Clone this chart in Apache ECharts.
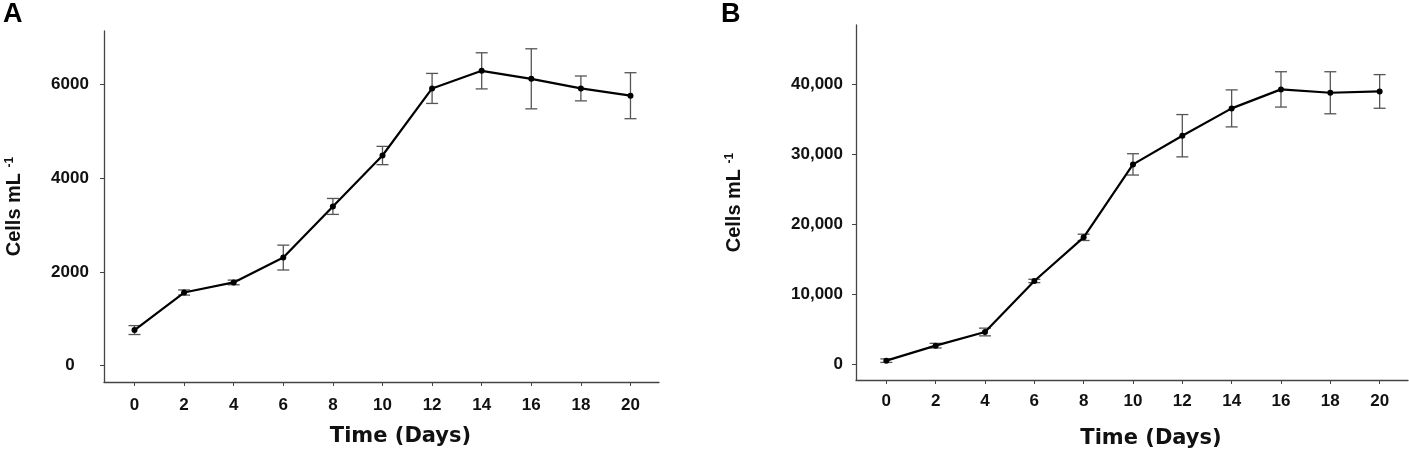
<!DOCTYPE html>
<html>
<head>
<meta charset="utf-8">
<script src="https://cdn.jsdelivr.net/npm/echarts@6/dist/echarts.min.js"></script>
<style>
  html, body { margin: 0; padding: 0; background: #fff; }
  #chart { width: 1409px; height: 456px; }
</style>
</head>
<body>
<div id="chart"></div>
<script>
// sampling days (x)
var days = [0, 2, 4, 6, 8, 10, 12, 14, 16, 18, 20];

// panel A: mean cells per mL and error (+/-)
var cellsA = [760, 1560, 1775, 2305, 3395, 4480, 5910, 6285, 6115, 5910, 5755];
var errA = [95, 55, 50, 265, 170, 195, 320, 385, 640, 265, 490];

// panel B
var cellsB = [520, 2660, 4610, 11890, 18120, 28530, 32620, 36520, 39230, 38750, 38940];
var errB = [250, 330, 550, 240, 450, 1520, 3020, 2640, 2520, 3000, 2400];

// tick labels
var yTicksA = [0, 2000, 4000, 6000];
var yTicksB = [0, 10000, 20000, 30000, 40000];

var tickFont = '"Liberation Sans", Arial, sans-serif';
var axisGrey = '#444';

function pairs(xs, ys) {
    return xs.map(function (x, i) { return [x, ys[i]]; });
}
function errRows(xs, ys, es) {
    return xs.map(function (x, i) { return [x, ys[i] - es[i], ys[i] + es[i]]; });
}

function renderErr(params, api) {
    var lo = api.coord([api.value(0), api.value(1)]);
    var hi = api.coord([api.value(0), api.value(2)]);
    var w = 6;
    var st = { stroke: '#555', lineWidth: 1.3 };
    return {
        type: 'group',
        children: [
            { type: 'line', shape: { x1: lo[0], y1: lo[1], x2: hi[0], y2: hi[1] }, style: st },
            { type: 'line', shape: { x1: lo[0] - w, y1: lo[1], x2: lo[0] + w, y2: lo[1] }, style: st },
            { type: 'line', shape: { x1: hi[0] - w, y1: hi[1], x2: hi[0] + w, y2: hi[1] }, style: st }
        ]
    };
}

function xAxisOf(idx, gap, nameGap) {
    return {
        type: 'value', gridIndex: idx, min: -1.23, max: 21.15,
        name: 'Time (Days)', nameLocation: 'middle', nameGap: nameGap,
        nameTextStyle: { fontFamily: 'DejaVu Sans', fontWeight: 'bold', fontSize: 21, color: '#111', padding: [0, 0, 0, 38] },
        axisLine: { onZero: false, lineStyle: { color: axisGrey, width: 1.3 } },
        axisTick: { customValues: days, length: 4, lineStyle: { color: axisGrey } },
        axisLabel: { customValues: days, margin: gap, fontFamily: tickFont, fontWeight: 'bold', fontSize: 17, color: '#111' },
        splitLine: { show: false }
    };
}

function yAxisOf(idx, min, max, ticks, lab, nameGap) {
    return {
        type: 'value', gridIndex: idx, min: min, max: max,
        name: '{m|Cells mL }{s|-1}', nameLocation: 'middle', nameRotate: 90, nameGap: nameGap,
        nameTextStyle: {
            rich: {
                m: { fontFamily: tickFont, fontWeight: 'bold', fontSize: 20, color: '#111', verticalAlign: 'bottom' },
                s: { fontFamily: tickFont, fontWeight: 'bold', fontSize: 12, color: '#111', verticalAlign: 'top' }
            }
        },
        axisLine: { onZero: false, lineStyle: { color: axisGrey, width: 1.3 } },
        axisTick: { customValues: ticks, length: 4, lineStyle: { color: axisGrey } },
        axisLabel: Object.assign({ customValues: ticks, fontFamily: tickFont, fontWeight: 'bold', fontSize: 17, color: '#111' }, lab),
        splitLine: { show: false }
    };
}

var chart = echarts.init(document.getElementById('chart'), null, { renderer: 'canvas' });

var option = {
    animation: false,
    backgroundColor: '#fff',
    graphic: [
        { type: 'text', left: 3, top: 1, style: { text: 'A', font: 'bold 27px "Liberation Sans"', fill: '#000' } },
        { type: 'text', left: 721, top: 1, style: { text: 'B', font: 'bold 27px "Liberation Sans"', fill: '#000' } }
    ],
    grid: [
        { left: 104, top: 31, width: 555, height: 351 },
        { left: 856, top: 25, width: 552, height: 355 }
    ],
    xAxis: [xAxisOf(0, 15, 44), xAxisOf(1, 13, 48)],
    yAxis: [
        yAxisOf(0, -347, 7134, yTicksA, {
            margin: 34, align: 'center',
            formatter: function (v) { return String(v); }
        }, 80),
        yAxisOf(1, -2240, 48420, yTicksB, {
            margin: 13,
            formatter: function (v) { return v.toLocaleString('en-US'); }
        }, 112)
    ],
    series: [
        {
            type: 'custom', xAxisIndex: 0, yAxisIndex: 0, renderItem: renderErr,
            data: errRows(days, cellsA, errA), z: 1
        },
        {
            type: 'line', xAxisIndex: 0, yAxisIndex: 0, data: pairs(days, cellsA),
            symbol: 'circle', symbolSize: 6, lineStyle: { color: '#000', width: 2.2 },
            itemStyle: { color: '#000' }, z: 2
        },
        {
            type: 'custom', xAxisIndex: 1, yAxisIndex: 1, renderItem: renderErr,
            data: errRows(days, cellsB, errB), z: 1
        },
        {
            type: 'line', xAxisIndex: 1, yAxisIndex: 1, data: pairs(days, cellsB),
            symbol: 'circle', symbolSize: 6, lineStyle: { color: '#000', width: 2.2 },
            itemStyle: { color: '#000' }, z: 2
        }
    ]
};

chart.setOption(option);
</script>
</body>
</html>
